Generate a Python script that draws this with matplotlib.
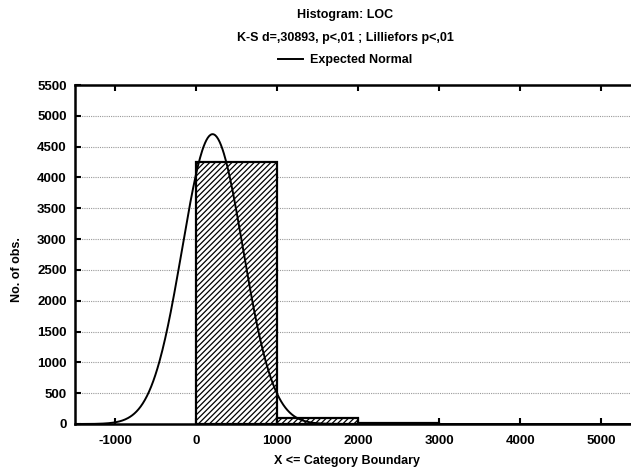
import numpy as np
import matplotlib
matplotlib.use('Agg')
import matplotlib.pyplot as plt

plt.rcParams['font.family'] = ['Liberation Sans', 'DejaVu Sans']
plt.rcParams['font.weight'] = 'bold'
plt.rcParams['hatch.linewidth'] = 0.9
plt.rcParams['axes.unicode_minus'] = False

# Histogram data
bin_edges = [0, 1000, 2000]
bin_counts = [4250, 97, 20]
bin_width = 1000

# Expected normal parameters
norm_mean = 200
norm_sd = 375
n_obs = 4420

x_ticks = [-1000, 0, 1000, 2000, 3000, 4000, 5000]
y_ticks = list(range(0, 5501, 500))

fig = plt.figure(figsize=(6.31, 4.72), dpi=100)
ax = fig.add_axes([75 / 631, 1 - 424 / 472, 1 - 75 / 631, (424 - 85) / 472])

ax.bar(bin_edges, bin_counts, width=bin_width, align='edge', color='white',
       edgecolor='black', linewidth=1.6, hatch='//////', zorder=2)

xs = np.linspace(-1500, 5400, 800)
ys = n_obs * bin_width / (norm_sd * np.sqrt(2 * np.pi)) * np.exp(-0.5 * ((xs - norm_mean) / norm_sd) ** 2)
line, = ax.plot(xs, ys, color='black', linewidth=1.4, zorder=3, label='Expected Normal')

ax.set_xlim(-1500, 5370)
ax.set_ylim(0, 5500)
ax.set_xticks(x_ticks)
ax.set_yticks(y_ticks)
ax.tick_params(axis='both', direction='in', length=4, width=1.5, labelsize=9.5, pad=6)
ax.tick_params(axis='x', top=True, pad=8)
for lbl in ax.get_xticklabels() + ax.get_yticklabels():
    lbl.set_fontweight('bold')

ax.yaxis.grid(True, linestyle=(0, (1, 1)), color='#999999', linewidth=0.8, zorder=0)
ax.set_axisbelow(True)

for side in ['left', 'bottom', 'top']:
    ax.spines[side].set_linewidth(1.8)
ax.spines['right'].set_visible(False)

fig.text(345 / 631, 1 - 15 / 472, 'Histogram: LOC', ha='center', va='center', fontsize=9, fontweight='bold')
fig.text(345 / 631, 1 - 38 / 472, 'K-S d=,30893, p<,01 ; Lilliefors p<,01', ha='center', va='center',
         fontsize=9, fontweight='bold')
fig.legend(handles=[line], loc='center', bbox_to_anchor=(345 / 631, 1 - 60 / 472), frameon=False,
           handlelength=2.0, handletextpad=0.6, prop={'weight': 'bold', 'size': 9})

fig.text(17 / 631, 1 - 270 / 472, 'No. of obs.', rotation=90, ha='center', va='center', fontsize=9, fontweight='bold')
fig.text(347 / 631, 1 - 461 / 472, 'X <= Category Boundary', ha='center', va='center', fontsize=9, fontweight='bold')

plt.savefig('out.png', dpi=100)
